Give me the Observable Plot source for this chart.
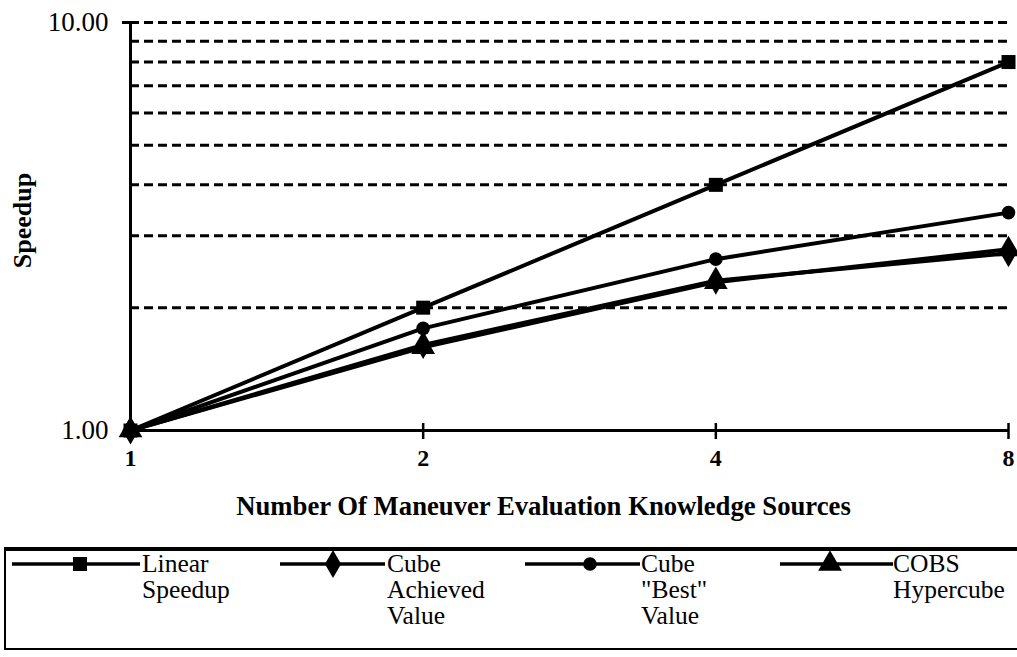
<!DOCTYPE html>
<html><head><meta charset="utf-8">
<script src="https://cdn.jsdelivr.net/npm/d3@7"></script>
<script src="https://cdn.jsdelivr.net/npm/@observablehq/plot@0.6"></script>
<style>
body{margin:0;background:#fff;font-family:"Liberation Serif","Times New Roman",Times,serif;}
#chart{position:relative;width:1017px;height:657px;overflow:hidden}
#legend{position:absolute;left:4px;top:547px;width:1030px;height:103px;border-left:2px solid #000;border-top:4px solid #000;border-bottom:2px solid #000;box-sizing:border-box}
.item-text{position:absolute;top:0;font-family:"Liberation Serif","Times New Roman",Times,serif;font-size:25.5px;line-height:26px;white-space:pre;color:#000}
.item-svg{position:absolute;top:0;overflow:visible}
</style></head><body><div id="chart"></div>
<script>
// Speedup vs. number of maneuver evaluation knowledge sources
const sources = [1, 2, 4, 8];
const linearSpeedup = [1, 2, 4, 8];
const cubeAchieved = [1, 1.62, 2.33, 2.72];
const cubeBest = [1, 1.78, 2.63, 3.42];
const cobsHypercube = [1, 1.60, 2.31, 2.78];
const gridLevels = [2, 3, 4, 5, 6, 7, 8, 9, 10];
const yTicks = [1, 10];
const seriesLabels = ["Linear\nSpeedup", "Cube\nAchieved\nValue", "Cube\n\"Best\"\nValue", "COBS\nHypercube"];
const seriesSymbols = ["square", "diamond", "circle", "triangle"];
const seriesValues = [linearSpeedup, cubeAchieved, cubeBest, cobsHypercube];

const rows = seriesValues.flatMap((vals, s) => sources.map((x, i) => ({series: s, x, y: vals[i]})));
const symbolSize = {square: 7.9, diamond: 8.5, circle: 6.8, triangle: 8.8};

const font = "'Liberation Serif', 'Times New Roman', Times, serif";
const plot = Plot.plot({
  width: 1017,
  height: 540,
  marginLeft: 130,
  marginRight: 9,
  marginTop: 22,
  marginBottom: 110,
  style: {fontFamily: font, background: "white", overflow: "visible"},
  x: {type: "log", base: 2, domain: [1, 8]},
  y: {type: "log", domain: [1, 10]},
  marks: [
    Plot.ruleY(gridLevels, {x1: 1, x2: 8, stroke: "black", strokeWidth: 3, strokeDasharray: "9,5"}),
    Plot.ruleY([10], {x1: 1, x2: 1, insetLeft: -8, stroke: "black", strokeWidth: 3}),
    Plot.ruleX([1], {y1: 1, y2: 10, stroke: "black", strokeWidth: 3}),
    Plot.ruleY([1], {x1: 1, x2: 8, stroke: "black", strokeWidth: 3}),
    Plot.ruleX(sources.slice(1), {y1: 1, y2: 1, insetTop: -7, insetBottom: -9, stroke: "black", strokeWidth: 2.5}),
    Plot.line(rows, {x: "x", y: "y", z: "series", stroke: "black", strokeWidth: 4}),
    ...seriesSymbols.map((sym, s) =>
      Plot.dot(rows.filter(d => d.series === s), {x: "x", y: "y", symbol: sym, r: symbolSize[sym], fill: "black", stroke: "none"})),
    Plot.axisY({ticks: yTicks, tickFormat: d => d.toFixed(2), tickSize: 0, tickPadding: 22, fontSize: 27, fontFamily: font, label: null}),
    Plot.axisX({ticks: sources, tickFormat: d => String(d), tickSize: 0, tickPadding: 18, fontSize: 24, fontWeight: "bold", fontFamily: font, label: null}),
    Plot.text(["Number Of Maneuver Evaluation Knowledge Sources"], {frameAnchor: "bottom", textAnchor: "middle", dx: -26, dy: 84, fontSize: 26.7, fontWeight: "bold", fontFamily: font, text: d => d}),
    Plot.text(["Speedup"], {frameAnchor: "left", textAnchor: "middle", dx: -108, dy: -6, rotate: -90, fontSize: 26, fontWeight: "bold", fontFamily: font, text: d => d})
  ]
});
const chart = document.getElementById("chart");
chart.appendChild(plot);

// Legend: line sample with marker, followed by the series name
const legend = document.createElement("div");
legend.id = "legend";
chart.appendChild(legend);
const sampleStart = [6, 274, 519, 774];
const sampleEnd = [134, 379, 634, 887];
const markerAt = [74, 327, 584, 824];
const textAt = [136, 381, 635, 887];
seriesLabels.forEach((label, s) => {
  const svg = d3.select(legend).append("svg").attr("class", "item-svg")
    .attr("width", 1).attr("height", 1).style("left", "0px").style("top", "0px");
  svg.append("line").attr("x1", sampleStart[s]).attr("x2", sampleEnd[s]).attr("y1", 13).attr("y2", 13)
    .attr("stroke", "black").attr("stroke-width", 3.5);
  const sym = seriesSymbols[s];
  const type = {square: d3.symbolSquare, diamond: d3.symbolDiamond, circle: d3.symbolCircle, triangle: d3.symbolTriangle}[sym];
  const r = symbolSize[sym];
  svg.append("path").attr("d", d3.symbol(type, Math.PI * r * r)())
    .attr("transform", `translate(${markerAt[s]},13)`).attr("fill", "black");
  const t = document.createElement("div");
  t.className = "item-text";
  t.style.left = textAt[s] + "px";
  t.textContent = label;
  legend.appendChild(t);
});
</script>
</body></html>
